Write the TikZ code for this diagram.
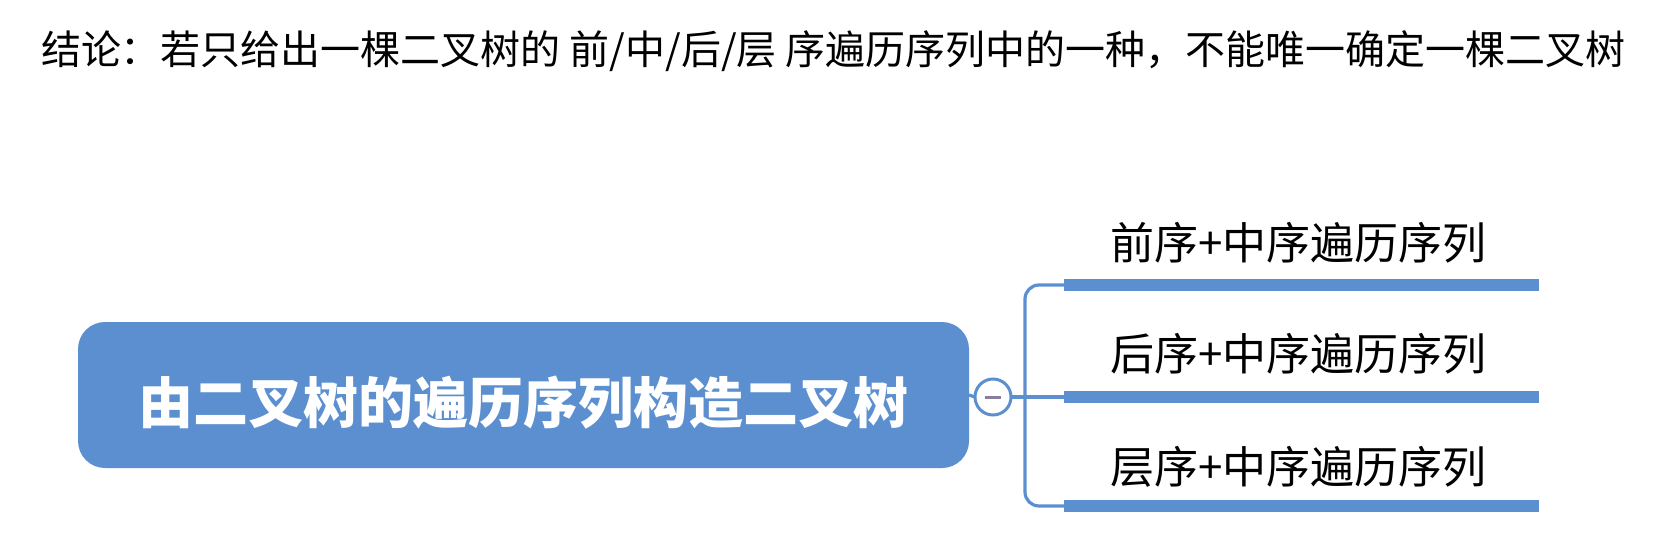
\documentclass[tikz,border=0pt]{standalone}
\usepackage{fontspec}
\newfontfamily\cjk{Noto Sans CJK SC}
\definecolor{mmblue}{RGB}{91,143,208}
\definecolor{minusc}{RGB}{138,126,156}
\begin{document}
\begin{tikzpicture}[x=1pt,y=-1pt,
  every node/.style={inner sep=0pt,outer sep=0pt},
  rootbox/.style={fill=mmblue,rounded corners=27pt,minimum width=891pt,minimum height=146pt},
  roottext/.style={text=white,font=\cjk\bfseries\fontsize{55}{62}\selectfont},
  collapse/.style={circle,draw=mmblue,line width=3pt,fill=white,minimum size=36pt},
  branch/.style={draw=mmblue,line width=3.2pt},
  barline/.style={fill=mmblue,minimum width=475pt,minimum height=12pt},
  leaf/.style={anchor=west,font=\cjk\fontsize{44}{52}\selectfont,text=black},
  headline/.style={anchor=west,font=\cjk\fontsize{40}{48}\selectfont,text=black}
]
\useasboundingbox (0,0) rectangle (1674,552);
\fill[white] (0,0) rectangle (1674,552);
\node[headline] (head) at (41,51) {结论：若只给出一棵二叉树的 前/中/后/层 序遍历序列中的一种，不能唯一确定一棵二叉树};
\node[rootbox] (root) at (523.5,395) {};
\node[roottext] (rootlabel) at (523.5,403) {由二叉树的遍历序列构造二叉树};
\node[collapse] (coll) at (993,397) {};
\draw[minusc,line width=3pt] ([xshift=-8pt]coll.center) -- ([xshift=8pt]coll.center);
\node[barline] (bar1) at (1301.5,285) {};
\node[barline] (bar2) at (1301.5,397) {};
\node[barline] (bar3) at (1301.5,506) {};
\coordinate (jt) at (1025,285);
\coordinate (jb) at (1025,506);
\draw[branch] (root.east) -- (coll.west);
\draw[branch] (coll.east) -- (bar2.west);
\draw[branch,rounded corners=14pt] (bar1.west) -- (jt) -- (jb) -- (bar3.west);
\node[leaf] (l1) at (1110,243) {前序+中序遍历序列};
\node[leaf] (l2) at (1110,354) {后序+中序遍历序列};
\node[leaf] (l3) at (1110,467) {层序+中序遍历序列};
\end{tikzpicture}
\end{document}
